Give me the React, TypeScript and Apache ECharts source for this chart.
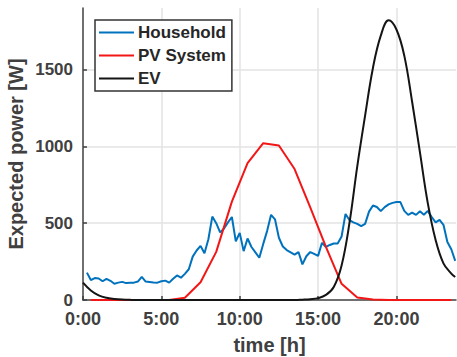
import React, { useEffect, useRef } from "react";
import * as echarts from "echarts";

// Household load, 15-min resolution starting at 0:15
const householdValues = [
  178, 130, 143, 140, 122, 138, 125, 106, 113, 118, 110, 112, 113, 120, 150, 120,
  117, 114, 113, 122, 126, 113, 138, 160, 145, 170, 200, 282, 322, 352, 304, 395,
  543, 500, 440, 465, 505, 540, 382, 437, 318, 400, 345, 310, 275, 365, 450, 554,
  525, 405, 348, 325, 310, 295, 312, 232, 285, 312, 300, 287, 372, 345, 358, 368,
  368, 413, 560, 520, 505, 495, 480, 495, 575, 615, 605, 578, 604, 622, 632, 637,
  637, 580, 554, 569, 554, 578, 555, 580, 540, 505, 521, 489, 378, 330, 255,
];
const householdTimes = householdValues.map((_, i) => (i + 1) * 0.25);

// PV system, hourly values at half hours
const pvTimes = [
  0.5, 1.5, 2.5, 3.5, 4.5, 5.5, 6.5, 7.5, 8.5, 9.5, 10.5, 11.5, 12.5, 13.5, 14.5,
  15.5, 16.5, 17.5, 18.5, 19.5, 20.5, 21.5, 22.5, 23.5,
];
const pvValues = [
  0, 0, 0, 0, 0, 0, 15, 115, 313, 640, 890, 1020, 1005, 852, 602, 345, 105, 17, 3,
  0, 0, 0, 0, 0,
];

// EV charging, half-hour samples
const evTimes = [
  0, 0.5, 1, 1.5, 2, 2.5, 3, 3.5, 4, 4.5, 5, 5.5, 6, 6.5, 7, 7.5, 8, 8.5, 9, 9.5,
  10, 10.5, 11, 11.5, 12, 12.5, 13, 13.5, 14, 14.5, 15, 15.5, 16, 16.5, 17, 17.5,
  18, 18.5, 19, 19.5, 20, 20.5, 21, 21.5, 22, 22.5, 23, 23.5, 23.75,
];
const evValues = [
  113, 62, 30, 14, 7, 3, 1, 0, 0, 0, 0, 0, 0, 0, 0, 0, 0, 0, 0, 0,
  0, 0, 0, 0, 0, 0, 0, 0, 2, 5, 12, 33, 85, 225, 500, 870,
  1200, 1510, 1720, 1820, 1760, 1590, 1290, 960, 630, 390, 238, 172, 150,
];

const xTicks = [0, 5, 10, 15, 20];
const yTicks = [0, 500, 1000, 1500];

const AXIS_COLOR = "#404040";
const FONT = "'Liberation Sans', Arial, Helvetica, sans-serif";

export default function App() {
  const ref = useRef<HTMLDivElement>(null);
  useEffect(() => {
    if (!ref.current) return;
    const chart = echarts.init(ref.current, undefined, { renderer: "svg" });
    const zip = (xs: number[], ys: number[]) => xs.map((x, i) => [x, ys[i]]);
    chart.setOption({
      animation: false,
      backgroundColor: "#ffffff",
      grid: { left: 83, right: 1, top: 8, bottom: 57, containLabel: false, outerBoundsMode: "none" },
      legend: {
        orient: "vertical",
        left: 95,
        top: 20,
        padding: [4, 6, 4, 4],
        itemWidth: 35,
        itemHeight: 2,
        itemGap: 6,
        borderColor: "#333333",
        borderWidth: 1.5,
        backgroundColor: "#ffffff",
        icon: "rect",
        textStyle: {
          fontFamily: FONT,
          fontWeight: "bold",
          fontSize: 17,
          lineHeight: 17,
          color: "#262626",
          padding: [0, 0, 0, -1],
        },
        data: ["Household", "PV System", "EV"],
      },
      xAxis: {
        type: "value",
        min: 0,
        max: 23.8,
        interval: 5,
        name: "time [h]",
        nameLocation: "middle",
        nameGap: 35,
        nameMoveOverlap: false,
        nameTextStyle: { fontFamily: FONT, fontWeight: "bold", fontSize: 20, color: AXIS_COLOR },
        axisLine: { show: true, lineStyle: { color: AXIS_COLOR, width: 1.5 } },
        axisTick: { show: true, inside: true, length: 4, lineStyle: { color: AXIS_COLOR, width: 1.5 }, customValues: xTicks },
        axisLabel: {
          fontFamily: FONT,
          fontWeight: "bold",
          fontSize: 18,
          color: AXIS_COLOR,
          margin: 10,
          customValues: xTicks,
          formatter: (v: number) => `${v}:00`,
        },
        splitLine: { show: true, showMinLine: false, lineStyle: { color: "#e3e3e3", width: 1.5 } },
      },
      yAxis: {
        type: "value",
        min: 0,
        max: 1900,
        interval: 500,
        name: "Expected power [W]",
        nameLocation: "middle",
        nameGap: 57,
        nameMoveOverlap: false,
        nameTextStyle: { fontFamily: FONT, fontWeight: "bold", fontSize: 20, color: AXIS_COLOR },
        axisLine: { show: true, lineStyle: { color: AXIS_COLOR, width: 1.5 } },
        axisTick: { show: true, inside: true, length: 4, lineStyle: { color: AXIS_COLOR, width: 1.5 }, customValues: yTicks },
        axisLabel: {
          fontFamily: FONT,
          fontWeight: "bold",
          fontSize: 17,
          color: AXIS_COLOR,
          margin: 10,
          customValues: yTicks,
          formatter: (v: number) => String(v),
        },
        splitLine: { show: true, showMinLine: false, lineStyle: { color: "#e3e3e3", width: 1.5 } },
      },
      series: [
        {
          name: "Household",
          type: "line",
          data: zip(householdTimes, householdValues),
          showSymbol: false,
          symbol: "none",
          lineStyle: { color: "#0072bd", width: 2 },
          itemStyle: { color: "#0072bd" },
        },
        {
          name: "PV System",
          type: "line",
          data: zip(pvTimes, pvValues),
          showSymbol: false,
          symbol: "none",
          lineStyle: { color: "#f21616", width: 2 },
          itemStyle: { color: "#f21616" },
        },
        {
          name: "EV",
          type: "line",
          data: zip(evTimes, evValues),
          showSymbol: false,
          symbol: "none",
          smooth: 0.4,
          lineStyle: { color: "#141414", width: 2 },
          itemStyle: { color: "#141414" },
        },
      ],
    });
    return () => chart.dispose();
  }, []);
  return (
    <div
      ref={ref}
      style={{ position: "fixed", left: 0, top: 0, width: 457, height: 357 }}
    />
  );
}
